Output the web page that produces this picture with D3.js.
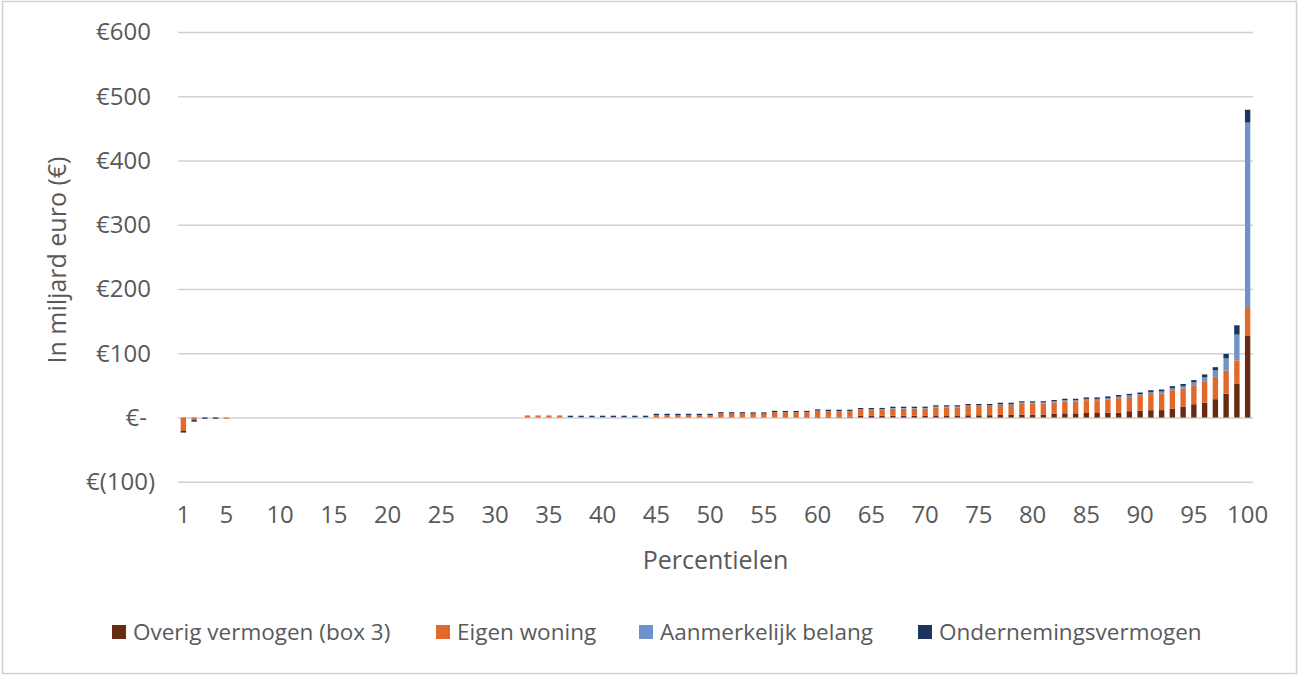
<!DOCTYPE html>
<html>
<head>
<meta charset="utf-8">
<script src="https://cdn.jsdelivr.net/npm/d3@7"></script>
<style>
    body { margin: 0; background: #fff; }
    text { font-family: 'Open Sans', sans-serif; fill: #595959; }
</style>
</head>
<body>
<div id="chart"></div>
<script>
// percentielen 1 t/m 100
const percentiles = d3.range(1, 101);
const xTickLabels = [1, 5, 10, 15, 20, 25, 30, 35, 40, 45, 50, 55, 60, 65, 70, 75, 80, 85, 90, 95, 100];
const yTicks = [-100, 0, 100, 200, 300, 400, 500, 600];

const seriesNames = ['Overig vermogen (box 3)', 'Eigen woning', 'Aanmerkelijk belang', 'Ondernemingsvermogen'];
const seriesColors = ['#682A13', '#E2692C', '#7092CA', '#1C355E'];

// in miljard euro, per percentiel
const overig = [
    0, 0, 0, 0, 0, 0, 0, 0, 0, 0,
    0, 0, 0, 0, 0, 0, 0, 0, 0, 0,
    0, 0, 0, 0, 0, 0, 0, 0, 0, 0,
    0, 0, 0, 0, 0, 0, 0, 0, 0, 0,
    0, 0, 0, 0, 0, 0, 0, 0, 0, 0,
    0, 0, 0, 0, 0, 0.2, 0.5, 0.5, 0.6, 0.8,
    1, 1, 1.1, 2.5, 2.5, 2.6, 3, 3, 3, 3.1,
    3.2, 3.2, 3.3, 3.5, 3.5, 3.6, 4, 4, 4.5, 4.5,
    4.6, 6, 6.5, 6.5, 7, 7, 7.3, 7.5, 9.8, 10.4,
    11.4, 11.5, 14, 16.6, 20.7, 22.8, 28.5, 37, 53, 127
];
const eigenWoning = [
    -21, -4, 0, 0, -2, 0, 0, 0, 0, 0,
    0, 0, 0, 0, 0, 0, 0, 0, 0, 0,
    0, 0, 0, 0, 0, 0, 0, 0, 0, 0,
    0, 0, 2.8, 2.8, 2.8, 2.8, 0.8, 0.8, 0.8, 0.8,
    0.8, 0.8, 0.8, 0.8, 3.8, 3.8, 3.8, 3.8, 3.8, 3.8,
    6.3, 6.3, 6.3, 6, 6, 8, 7.6, 7.6, 7.6, 9.6,
    8.8, 8.8, 8.8, 9.8, 9.8, 9.8, 10.8, 10.8, 10.8, 10.8,
    12.6, 12.6, 12.6, 14.3, 14.3, 14.3, 15.5, 15.5, 17, 17,
    17, 17.5, 18.5, 18.5, 20, 20, 21, 22.5, 22, 23,
    25, 26, 28.5, 28.5, 29.5, 33.7, 34.7, 36, 36, 45
];
const aanmerkelijkBelang = [
    0, 0, 0, 0, 0, 0, 0, 0, 0, 0,
    0, 0, 0, 0, 0, 0, 0, 0, 0, 0,
    0, 0, 0, 0, 0, 0, 0, 0, 0, 0,
    0, 0, 0, 0, 0, 0, 0, 0, 0, 0,
    0, 0, 0, 0, 0, 0, 0, 0, 0, 0,
    0, 0, 0, 0, 0, 0, 0.2, 0.2, 0.2, 0.3,
    0.3, 0.3, 0.3, 0.5, 0.5, 0.5, 1, 1, 1, 1,
    1.2, 1.2, 1.2, 1.2, 1.2, 1.2, 1.5, 1.5, 1.7, 1.7,
    1.7, 1.7, 2, 2, 2, 2, 2, 2.5, 2.5, 2.8,
    3, 3, 3.2, 4, 5, 6, 10.4, 19, 40, 287
];
const ondernemingsvermogen = [
    -2.5, -2.5, -2, -2, 0, 0, 0, 0, 0, 0,
    0, 0, 0, 0, 0, 0, 0, 0, 0, 0,
    0, 0, 0, 0, 0, 0, 0, 0, 0, 0,
    0, 0, 0.3, 0.3, 0.3, 0.3, 2, 2, 2, 2,
    2, 2, 2, 2, 2, 2, 2, 2, 2, 2,
    2, 2, 2, 2, 2, 2.2, 1.9, 1.9, 1.9, 2,
    2, 2, 2, 2, 2, 2, 2, 2, 2, 2,
    2, 2, 2, 2, 2, 2, 2, 2, 2, 2,
    2, 2, 2.2, 2.2, 2.3, 2.3, 2.5, 2.5, 2.5, 2.7,
    3, 3, 3, 3, 3, 4.5, 4.7, 7, 14.5, 20
];

const width = 1299;
const height = 676;
const plot = { left: 178, right: 1253, top: 32, zero: 417.5 };

const tableRows = percentiles.map((p, i) => ({
    name: p,
    [seriesNames[0]]: overig[i],
    [seriesNames[1]]: eigenWoning[i],
    [seriesNames[2]]: aanmerkelijkBelang[i],
    [seriesNames[3]]: ondernemingsvermogen[i]
}));

const svg = d3.select('#chart')
    .append('svg')
    .attr('width', width)
    .attr('height', height)
    .attr('viewBox', [0, 0, width, height]);

// kader om de grafiek
svg.append('rect')
    .attr('x', 2.5)
    .attr('y', 1.5)
    .attr('width', width - 5)
    .attr('height', height - 4)
    .attr('fill', 'none')
    .attr('stroke', '#D0D0D0')
    .attr('stroke-width', 1.5);

const xScale = d3.scaleBand()
    .domain(percentiles)
    .range([plot.left, plot.right])
    .paddingInner(0.5)
    .paddingOuter(0.25);

const yScale = d3.scaleLinear()
    .domain([-100, 600])
    .range([plot.zero + (plot.zero - plot.top) / 6, plot.top]);

const yGridLines = d3.axisLeft()
    .scale(yScale)
    .tickValues(yTicks)
    .tickSize(-(plot.right - plot.left))
    .tickFormat('');

svg.append('g')
    .classed('gridline', true)
    .attr('transform', `translate(${plot.left}, 0)`)
    .call(yGridLines)
    .call(g => g.select('.domain').remove())
    .call(g => g.selectAll('line')
        .attr('stroke', '#D0D0D0')
        .attr('stroke-width', 1.6));

// bedragen in boekhoudnotatie
const euro = v => v === 0 ? '€-' : (v < 0 ? `€(${Math.abs(v)})` : `€${v}`);
const labelShift = v => v === 0 ? -31 : (v < 0 ? -23 : -27);

svg.append('g')
    .classed('y-axis', true)
    .selectAll('text')
    .data(yTicks)
    .enter()
    .append('text')
    .attr('x', d => plot.left + labelShift(d))
    .attr('y', d => yScale(d))
    .attr('dy', '0.35em')
    .style('font-size', '24px')
    .style('text-anchor', 'end')
    .text(euro);

const stack = d3.stack()
    .keys(seriesNames)
    .offset(d3.stackOffsetDiverging);

const layers = stack(tableRows);

svg.append('g')
    .selectAll('g')
    .data(layers)
    .enter()
    .append('g')
    .attr('fill', (d, i) => seriesColors[i])
    .selectAll('rect')
    .data(d => d)
    .enter()
    .append('rect')
    .attr('x', d => xScale(d.data.name))
    .attr('y', d => yScale(Math.max(d[0], d[1])))
    .attr('height', d => Math.abs(yScale(d[0]) - yScale(d[1])))
    .attr('width', xScale.bandwidth());

svg.append('g')
    .classed('x-axis', true)
    .selectAll('text')
    .data(xTickLabels)
    .enter()
    .append('text')
    .attr('x', d => xScale(d) + xScale.bandwidth() / 2)
    .attr('y', 515)
    .attr('dy', '0.35em')
    .style('font-size', '24px')
    .style('text-anchor', 'middle')
    .text(d => d);

svg.append('text')
    .attr('x', (plot.left + plot.right) / 2)
    .attr('y', 560)
    .attr('dy', '0.35em')
    .style('font-size', '25px')
    .style('text-anchor', 'middle')
    .text('Percentielen');

svg.append('text')
    .attr('transform', 'translate(57, 260) rotate(-90)')
    .attr('dy', '0.35em')
    .style('font-size', '25px')
    .style('text-anchor', 'middle')
    .text('In miljard euro (€)');

// legenda
const legendX = [112, 436, 639, 918];
const legend = svg.append('g')
    .classed('legend', true)
    .selectAll('g')
    .data(seriesNames)
    .enter()
    .append('g')
    .attr('transform', (d, i) => `translate(${legendX[i]}, 632)`);

legend.append('rect')
    .attr('x', 0)
    .attr('y', -7)
    .attr('width', 14)
    .attr('height', 14)
    .attr('fill', (d, i) => seriesColors[i]);

legend.append('text')
    .attr('x', 21)
    .attr('y', 0)
    .attr('dy', '0.35em')
    .style('font-size', '22.5px')
    .text(d => d);
</script>
</body>
</html>
